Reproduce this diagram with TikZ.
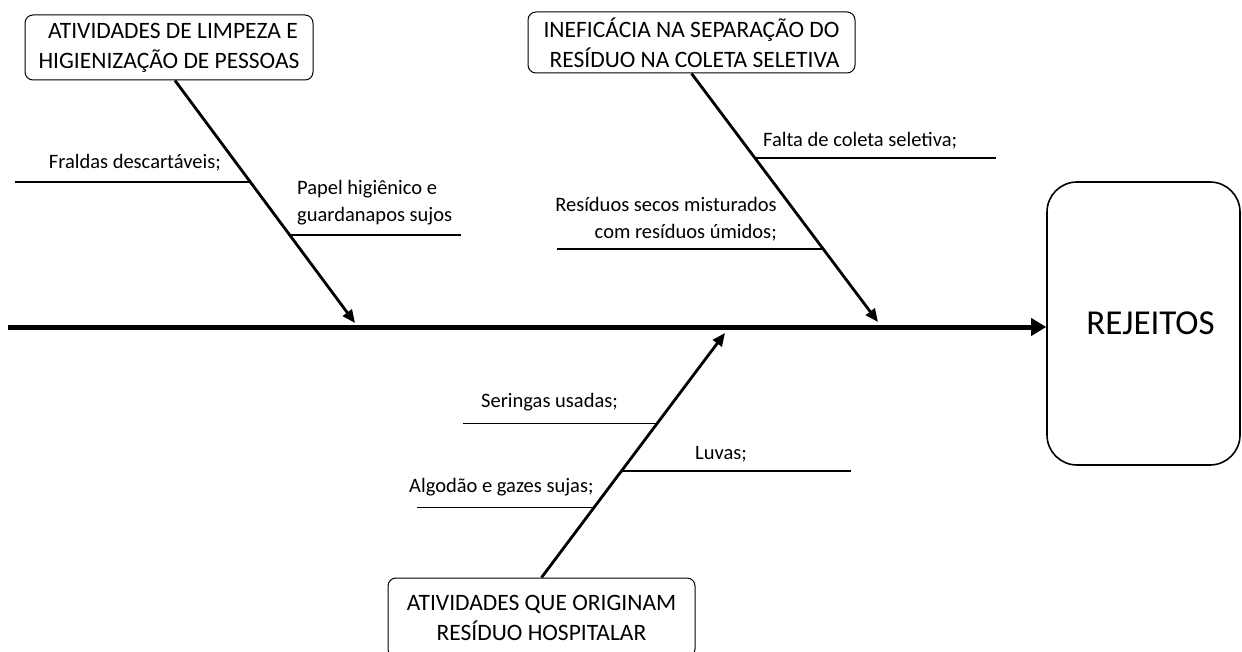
\documentclass[tikz,border=0pt]{standalone}
\usepackage{fontspec}
\setmainfont{Carlito}
\usetikzlibrary{arrows.meta}
\tikzset{
  causebox/.style={draw, line width=1pt, rounded corners=8pt, align=center, inner sep=0pt,
    font=\fontsize{23.5}{30}\selectfont},
  effectbox/.style={draw, line width=1.6pt, rounded corners=30pt, inner sep=0pt,
    font=\fontsize{35}{40}\selectfont},
  spine/.style={line width=5pt, -{Triangle[length=15pt,width=17pt]}},
  bone/.style={line width=2.8pt, -{Triangle[length=13pt,width=11pt]}},
  twig/.style={line width=1.8pt},
  lbl/.style={inner sep=0pt, font=\fontsize{20.5}{27}\selectfont}
}
\begin{document}
\begin{tikzpicture}[x=1pt,y=-1pt]
\useasboundingbox (0,0) rectangle (1242,652);
\clip (0,0) rectangle (1242,652);
% boxes
\node[causebox, minimum width=288pt, minimum height=65pt] (b1) at (169,47.5)
  {\hspace*{8pt}ATIVIDADES DE LIMPEZA E\\HIGIENIZAÇÃO DE PESSOAS};
\node[causebox, minimum width=327pt, minimum height=61pt] (b2) at (691.5,42.5)
  {INEFICÁCIA NA SEPARAÇÃO DO\\\hspace*{6pt}RESÍDUO NA COLETA SELETIVA};
\node[causebox, minimum width=307pt, minimum height=79pt] (b3) at (541.5,617.5)
  {ATIVIDADES QUE ORIGINAM\\RESÍDUO HOSPITALAR};
\node[effectbox, minimum width=193pt, minimum height=283pt] (rej) at (1143.5,323.5) {\hspace*{14pt}REJEITOS};
% spine
\coordinate (s0) at (8,327);
\draw[spine] (s0) -- (rej.west |- s0);
% bone tips
\coordinate (t1) at (355,323);
\coordinate (t2) at (878,322);
\coordinate (t3) at (725,333);
\coordinate (b1s) at ([xshift=6pt]b1.south);
\draw[bone] (b1s) -- (t1);
\draw[bone] (b2.south) -- (t2);
\draw[bone] (b3.north) -- (t3);
% junctions
\path (b1s) -- (t1) coordinate[pos=0.42] (j11) coordinate[pos=0.638] (j12);
\path (b2.south) -- (t2) coordinate[pos=0.341] (j21) coordinate[pos=0.707] (j22);
\path (b3.north) -- (t3) coordinate[pos=0.63] (j31) coordinate[pos=0.437] (j32) coordinate[pos=0.286] (j33);
% twigs
\draw[twig] (j11) -- ++(-236,0) coordinate (e11);
\draw[twig] (j12) -- ++(171,0) coordinate (e12);
\draw[twig] (j21) -- ++(241,0) coordinate (e21);
\draw[twig] (j22) -- ++(-266,0) coordinate (e22);
\draw[twig] (j31) -- ++(-194,0) coordinate (e31);
\draw[twig] (j32) -- ++(229,0) coordinate (e32);
\draw[twig] (j33) -- ++(-177,0) coordinate (e33);
% labels
\node[lbl, anchor=base east] (l11) at (221,169) {Fraldas descartáveis;};
\node[lbl, anchor=north west, align=left] (l12) at (297,180) {Papel higiênico e\\guardanapos sujos};
\node[lbl, anchor=base west] (l21) at (763,147) {Falta de coleta seletiva;};
\node[lbl, anchor=north east, align=right] (l22) at (777,197) {Resíduos secos misturados\\com resíduos úmidos;};
\node[lbl, anchor=base west] (l31) at (481,407) {Seringas usadas;};
\node[lbl, anchor=base west] (l32) at (695,459) {Luvas;};
\node[lbl, anchor=base west] (l33) at (409,492) {Algodão e gazes sujas;};
\end{tikzpicture}
\end{document}
